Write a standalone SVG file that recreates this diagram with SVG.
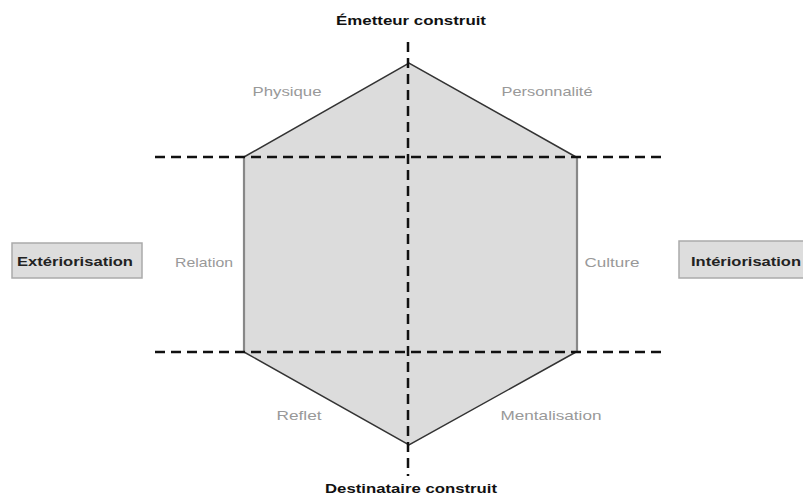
<svg xmlns="http://www.w3.org/2000/svg" width="803" height="498" viewBox="0 0 803 498">
<style>
.title{font-family:"Liberation Sans",Arial,sans-serif;font-size:13px;font-weight:bold;fill:#111;text-anchor:middle}
.lbl{font-family:"Liberation Sans",Arial,sans-serif;font-size:13px;fill:#999;text-anchor:middle}
.axis{stroke:#111;stroke-width:2.5;stroke-dasharray:10,6;fill:none}
.box{fill:#dddddd;stroke:#aaaaaa;stroke-width:1.5}
.btxt{font-family:"Liberation Sans",Arial,sans-serif;font-size:13px;font-weight:bold;fill:#222;text-anchor:middle}
</style>
<rect width="803" height="498" fill="#ffffff"/>
<g id="hexagon">
<polygon points="409,63 576,157 576,352 409,445 244,352 244,157" fill="#dcdcdc" stroke="none"/>
<polyline points="244,157 409,63 576,157" fill="none" stroke="#333" stroke-width="1.5"/>
<polyline points="244,352 409,445 576,352" fill="none" stroke="#333" stroke-width="1.5"/>
<line x1="244" y1="157" x2="244" y2="352" stroke="#888" stroke-width="2.2"/>
<line x1="577" y1="157" x2="577" y2="352" stroke="#888" stroke-width="2.2"/>
</g>
<g id="connectors">
<line class="axis" x1="408" y1="42" x2="408" y2="476"/>
<line class="axis" x1="155" y1="157" x2="665" y2="157"/>
<line class="axis" x1="155" y1="352" x2="665" y2="352"/>
</g>
<g id="emetteur"><text class="title" x="411" y="25" textLength="150" lengthAdjust="spacingAndGlyphs">Émetteur construit</text></g>
<g id="destinataire"><text class="title" x="411" y="493" textLength="172" lengthAdjust="spacingAndGlyphs">Destinataire construit</text></g>
<g id="physique"><text class="lbl" x="287" y="96" textLength="69" lengthAdjust="spacingAndGlyphs">Physique</text></g>
<g id="personnalite"><text class="lbl" x="547" y="96" textLength="91" lengthAdjust="spacingAndGlyphs">Personnalité</text></g>
<g id="relation"><text class="lbl" x="204" y="267" textLength="58" lengthAdjust="spacingAndGlyphs">Relation</text></g>
<g id="culture"><text class="lbl" x="612" y="267" textLength="55" lengthAdjust="spacingAndGlyphs">Culture</text></g>
<g id="reflet"><text class="lbl" x="299" y="420" textLength="45" lengthAdjust="spacingAndGlyphs">Reflet</text></g>
<g id="mentalisation"><text class="lbl" x="551" y="420" textLength="101" lengthAdjust="spacingAndGlyphs">Mentalisation</text></g>
<g id="exteriorisation">
<rect class="box" x="12" y="243" width="130" height="35"/>
<text class="btxt" x="75" y="266" textLength="116" lengthAdjust="spacingAndGlyphs">Extériorisation</text>
</g>
<g id="interiorisation">
<rect class="box" x="679" y="241" width="130" height="37"/>
<text class="btxt" x="746" y="266" textLength="110" lengthAdjust="spacingAndGlyphs">Intériorisation</text>
</g>
</svg>
